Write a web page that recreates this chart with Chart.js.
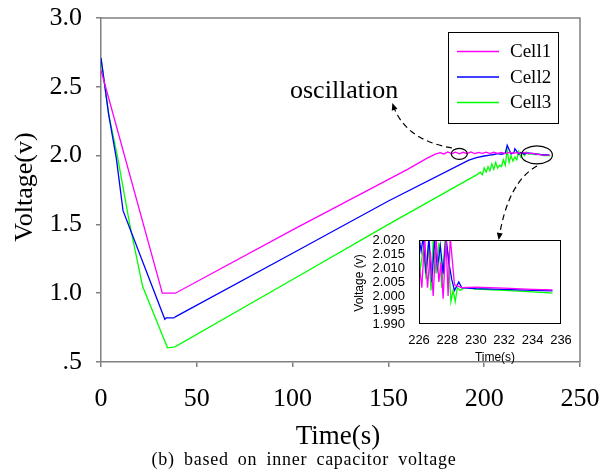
<!DOCTYPE html>
<html>
<head>
<meta charset="utf-8">
<script src="https://cdn.jsdelivr.net/npm/chart.js@4"></script>
<style>
  body { margin: 0; background: #fff; }
  #wrap { position: relative; width: 600px; height: 473px; }
  #inset { position: absolute; left: 340px; top: 228px; }
</style>
</head>
<body>
<div id="wrap">
  <canvas id="main" width="600" height="473"></canvas>
  <canvas id="inset" width="231" height="140"></canvas>
</div>
<script>
// ---- main chart data (time in s, voltage in V) ----
const cell1Time = [0, 32, 38.8, 100, 160, 170, 174.5, 177, 179, 181, 183, 185, 187, 189, 191, 193, 195, 197, 199, 201, 203, 205, 207, 209, 211, 213, 215, 217, 219, 221, 223, 225, 227, 230, 234];
const cell1Volt = [2.62, 1.0, 1.0, 1.46, 1.9, 1.98, 2.01, 2.022, 2.012, 2.026, 2.014, 2.025, 2.013, 2.024, 2.015, 2.026, 2.014, 2.023, 2.016, 2.025, 2.014, 2.024, 2.017, 2.023, 2.015, 2.024, 2.018, 2.022, 2.016, 2.023, 2.015, 2.018, 2.01, 2.005, 2.004];

const cell2Time = [0, 4, 8, 11.5, 33.3, 34, 38, 39, 100, 150, 192, 196, 200, 203, 205, 207, 209, 211, 212, 214, 215.5, 216, 218, 219, 221, 223, 225, 227, 229, 231, 234];
const cell2Volt = [2.71, 2.3, 1.98, 1.6, 0.81, 0.82, 0.82, 0.83, 1.29, 1.67, 1.967, 1.985, 1.997, 2.004, 2.008, 2.014, 2.01, 2.018, 2.075, 2.012, 2.02, 2.05, 2.01, 2.022, 2.012, 2.02, 2.014, 2.012, 2.008, 2.006, 2.005];

const cell3Time = [0, 4, 8.5, 15, 21.7, 34.7, 38.6, 100, 150, 196, 198, 199, 200, 201, 202, 203, 204, 205, 206, 207, 208, 209, 210, 211, 212, 213, 214, 215, 216, 217, 218, 219, 220, 221, 222, 223, 225, 227, 229, 231, 234.5];
const cell3Volt = [2.71, 2.3, 2.0, 1.5, 1.05, 0.603, 0.61, 1.1, 1.5, 1.86, 1.88, 1.86, 1.91, 1.88, 1.92, 1.89, 1.94, 1.9, 1.95, 1.91, 1.93, 1.92, 1.97, 1.93, 2.04, 1.95, 2.0, 1.96, 1.99, 1.97, 2.03, 1.99, 2.02, 2.0, 2.025, 2.01, 2.015, 2.005, 2.01, 2.0, 2.0];

// ---- inset data (zoom of the oscillation) ----
const insetTime1 = [226, 226.2, 226.4, 226.6, 226.8, 227.0, 227.2, 227.4, 227.55, 227.7, 227.9, 228.05, 228.2, 228.5, 229, 230, 232, 234, 235.4];
const insetVolt1 = [2.012, 2.003, 2.021, 2.003, 2.016, 2.0, 2.021, 2.005, 2.012, 1.999, 2.021, 2.0, 2.021, 2.004, 2.003, 2.0032, 2.0028, 2.0024, 2.0022];
const insetTime2 = [226, 226.15, 226.3, 226.5, 226.7, 226.9, 227.1, 227.3, 227.5, 227.7, 227.9, 228.1, 228.3, 228.5, 228.8, 229, 230, 232, 234, 235.4];
const insetVolt2 = [2.021, 2.016, 2.021, 2.008, 2.021, 2.005, 2.02, 2.01, 2.018, 2.008, 2.021, 2.012, 2.006, 2.002, 2.005, 2.003, 2.0026, 2.0024, 2.002, 2.0018];
const insetTime3 = [226, 226.1, 226.3, 226.5, 226.65, 226.85, 227.0, 227.2, 227.4, 227.6, 227.85, 228.05, 228.25, 228.4, 228.55, 228.7, 228.9, 229.2, 230, 232, 234, 235.4];
const insetVolt3 = [2.013, 2.01, 2.017, 2.006, 2.018, 2.002, 2.02, 2.008, 2.019, 2.003, 2.021, 2.015, 1.998, 2.002, 1.998, 2.003, 2.002, 2.003, 2.0025, 2.002, 2.0015, 2.001];

const seriesNames = ['Cell1', 'Cell2', 'Cell3'];
const seriesColors = ['#ff00ff', '#0000ff', '#00ff00'];
const caption = '(b) based on inner capacitor voltage';

const serif = "'Liberation Serif', 'Times New Roman', serif";
const sans = "'Liberation Sans', Arial, sans-serif";

function pts(t, v) {
    return t.map((x, i) => ({ x: x, y: v[i] }));
}

function ds(label, t, v, color, w) {
    return {
        label: label,
        data: pts(t, v),
        borderColor: color,
        backgroundColor: color,
        borderWidth: w,
        pointRadius: 0,
        tension: 0
    };
}

// dashed curved arrow helper
function dashedArrow(ctx, p0, c, p2) {
    ctx.save();
    ctx.strokeStyle = '#000';
    ctx.lineWidth = 1.2;
    ctx.setLineDash([6, 4]);
    ctx.beginPath();
    ctx.moveTo(p0[0], p0[1]);
    ctx.quadraticCurveTo(c[0], c[1], p2[0], p2[1]);
    ctx.stroke();
    ctx.setLineDash([]);
    let ang = Math.atan2(p2[1] - c[1], p2[0] - c[0]);
    ctx.translate(p2[0], p2[1]);
    ctx.rotate(ang);
    ctx.beginPath();
    ctx.moveTo(2, 0);
    ctx.lineTo(-5, -3);
    ctx.lineTo(-5, 3);
    ctx.closePath();
    ctx.fillStyle = '#000';
    ctx.fill();
    ctx.restore();
}

// caption is set wide, with loose word gaps
function drawCaption(ctx, text, cx, y, totalWidth) {
    ctx.save();
    ctx.letterSpacing = '0.75px';
    const words = text.split(' ');
    const widths = words.map(w => ctx.measureText(w).width);
    const sum = widths.reduce((a, b) => a + b, 0);
    const gap = (totalWidth - sum) / (words.length - 1);
    let x = cx - totalWidth / 2;
    ctx.textAlign = 'left';
    words.forEach((w, i) => {
        ctx.fillText(w, x, y);
        x += widths[i] + gap;
    });
    ctx.restore();
}

const mainDecor = {
    id: 'mainDecor',
    afterDraw(chart) {
        const ctx = chart.ctx;
        const a = chart.chartArea;
        const xs = chart.scales.x, ys = chart.scales.y;
        ctx.save();
        // top / right frame
        ctx.strokeStyle = '#808080';
        ctx.lineWidth = 1.5;
        ctx.beginPath();
        ctx.moveTo(a.left, a.top);
        ctx.lineTo(a.right, a.top);
        ctx.lineTo(a.right, a.bottom);
        ctx.stroke();

        // axis titles and caption
        ctx.fillStyle = '#000';
        ctx.textAlign = 'center';
        ctx.textBaseline = 'middle';
        ctx.font = '27px ' + serif;
        ctx.fillText('Time(s)', 338, 437);
        ctx.font = '18px ' + serif;
        drawCaption(ctx, caption, 304, 460, 305);
        ctx.textAlign = 'center';
        ctx.save();
        ctx.translate(25, 187);
        ctx.rotate(-Math.PI / 2);
        ctx.font = '26px ' + serif;
        ctx.fillText('Voltage(v)', 0, 0);
        ctx.restore();

        // legend
        ctx.strokeStyle = '#000';
        ctx.lineWidth = 1;
        ctx.strokeRect(448.5, 32.5, 110, 91);
        ctx.font = '19px ' + serif;
        ctx.textAlign = 'left';
        seriesNames.forEach((n, i) => {
            let y = 51.5 + i * 25.5;
            ctx.strokeStyle = seriesColors[i];
            ctx.lineWidth = 1.5;
            ctx.beginPath();
            ctx.moveTo(457, y);
            ctx.lineTo(499, y);
            ctx.stroke();
            ctx.fillText(n, 510, y + 1);
        });

        // annotation
        ctx.font = '26px ' + serif;
        ctx.textAlign = 'left';
        ctx.textBaseline = 'alphabetic';
        ctx.fillText('oscillation', 290, 98);

        ctx.strokeStyle = '#000';
        ctx.lineWidth = 1.2;
        ctx.beginPath();
        ctx.ellipse(xs.getPixelForValue(187), ys.getPixelForValue(2.012), 8, 5.5, 0, 0, Math.PI * 2);
        ctx.stroke();
        ctx.beginPath();
        ctx.ellipse(xs.getPixelForValue(227.5), ys.getPixelForValue(2.005), 15.5, 9, 0, 0, Math.PI * 2);
        ctx.stroke();
        ctx.restore();

        dashedArrow(ctx, [452, 148], [405, 140], [393, 105]);
        dashedArrow(ctx, [537, 166], [508, 182], [499, 238]);
    }
};

new Chart(document.getElementById('main'), {
    type: 'line',
    data: {
        datasets: [
            ds(seriesNames[0], cell1Time, cell1Volt, seriesColors[0], 1.3),
            ds(seriesNames[1], cell2Time, cell2Volt, seriesColors[1], 1.3),
            ds(seriesNames[2], cell3Time, cell3Volt, seriesColors[2], 1.3)
        ]
    },
    options: {
        responsive: false,
        animation: false,
        layout: { padding: { top: 18, right: 20, left: 0, bottom: 0 } },
        plugins: { legend: { display: false }, tooltip: { enabled: false } },
        scales: {
            x: {
                type: 'linear',
                min: 0, max: 250,
                afterFit(s) { s.height = 111; s.paddingLeft = 0; s.paddingRight = 0; },
                grid: { drawOnChartArea: false, tickLength: 5, color: '#808080', lineWidth: 1.5 },
                border: { color: '#808080', width: 1.5 },
                ticks: { stepSize: 50, color: '#000', padding: 17, font: { family: serif, size: 26 } }
            },
            y: {
                min: 0.5, max: 3.0,
                afterFit(s) { s.width = 101; s.paddingTop = 0; s.paddingBottom = 0; },
                grid: { drawOnChartArea: false, tickLength: 5, color: '#808080', lineWidth: 1.5 },
                border: { color: '#808080', width: 1.5 },
                ticks: {
                    stepSize: 0.5, color: '#000', padding: 14,
                    font: { family: serif, size: 26 },
                    callback: v => (v === 0.5 ? '.5' : v.toFixed(1))
                }
            }
        }
    },
    plugins: [mainDecor]
});

const insetDecor = {
    id: 'insetDecor',
    beforeDraw(chart) {
        const a = chart.chartArea;
        const ctx = chart.ctx;
        ctx.save();
        ctx.fillStyle = '#fff';
        ctx.fillRect(a.left, a.top, a.right - a.left, a.bottom - a.top);
        ctx.restore();
    },
    afterDraw(chart) {
        const a = chart.chartArea;
        const ctx = chart.ctx;
        ctx.save();
        ctx.strokeStyle = '#000';
        ctx.lineWidth = 1;
        ctx.strokeRect(a.left + 0.5, a.top + 0.5, a.right - a.left - 1, a.bottom - a.top - 1);
        ctx.fillStyle = '#000';
        ctx.textAlign = 'center';
        ctx.textBaseline = 'middle';
        ctx.font = '12px ' + sans;
        ctx.fillText('Time(s)', 155, 130);
        ctx.translate(20, 55);
        ctx.rotate(-Math.PI / 2);
        ctx.fillText('Voltage (v)', 0, 0);
        ctx.restore();
    }
};

new Chart(document.getElementById('inset'), {
    type: 'line',
    data: {
        datasets: [
            ds(seriesNames[0], insetTime1, insetVolt1, seriesColors[0], 1.3),
            ds(seriesNames[1], insetTime2, insetVolt2, seriesColors[1], 1.3),
            ds(seriesNames[2], insetTime3, insetVolt3, seriesColors[2], 1.3)
        ]
    },
    options: {
        responsive: false,
        animation: false,
        layout: { padding: { top: 12, right: 10, left: 0, bottom: 0 } },
        plugins: { legend: { display: false }, tooltip: { enabled: false } },
        scales: {
            x: {
                type: 'linear',
                min: 226, max: 236,
                afterFit(s) { s.height = 44; s.paddingLeft = 0; s.paddingRight = 0; },
                grid: { display: false },
                border: { display: false },
                ticks: { stepSize: 2, autoSkip: false, color: '#000', padding: 1, maxRotation: 0, font: { family: sans, size: 13 } }
            },
            y: {
                min: 1.99, max: 2.02,
                afterFit(s) { s.width = 79; s.paddingTop = 0; s.paddingBottom = 0; },
                grid: { display: false },
                border: { display: false },
                ticks: {
                    stepSize: 0.005, autoSkip: false, color: '#000', padding: 6,
                    font: { family: sans, size: 13 },
                    callback: v => v.toFixed(3)
                }
            }
        }
    },
    plugins: [insetDecor]
});
</script>
</body>
</html>
